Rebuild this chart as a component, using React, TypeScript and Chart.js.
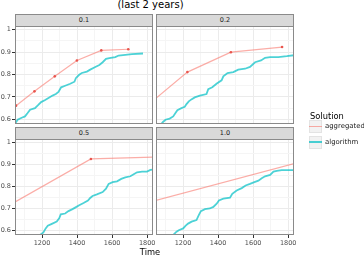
import { useEffect, useRef } from "react";
import { Chart, registerables } from "chart.js";

Chart.register(...registerables);

// ---------------- data ----------------
const panelLabels = ["0.1", "0.2", "0.5", "1.0"];
const seriesNames = ["aggregated", "algorithm"];

const xGridValues = [1100, 1200, 1300, 1400, 1500, 1600, 1700, 1800];
const xMajorTicks = [1200, 1400, 1600, 1800];
const yGridValues = [0.6, 0.65, 0.7, 0.75, 0.8, 0.85, 0.9, 0.95, 1.0];
const yMajorTicks = [0.6, 0.7, 0.8, 0.9, 1.0];

const agg01X = [1052, 1157, 1273, 1399, 1538, 1692];
const agg01Y = [0.661, 0.725, 0.792, 0.863, 0.908, 0.913];
const alg01X = [1030, 1046, 1061, 1084, 1103, 1118, 1132, 1160, 1176, 1195, 1218, 1237, 1260, 1279, 1294, 1309, 1332, 1361, 1385, 1393, 1412, 1427, 1456, 1475, 1504, 1527, 1546, 1565, 1584, 1618, 1637, 1675, 1713, 1776];
const alg01Y = [0.572, 0.58, 0.598, 0.607, 0.613, 0.628, 0.643, 0.65, 0.662, 0.677, 0.686, 0.695, 0.706, 0.713, 0.722, 0.743, 0.75, 0.759, 0.768, 0.784, 0.799, 0.807, 0.813, 0.822, 0.834, 0.843, 0.855, 0.87, 0.873, 0.878, 0.885, 0.888, 0.891, 0.894];

const agg02X = [1000, 1225, 1473, 1765];
const agg02Y = [0.664, 0.811, 0.9, 0.923];
const alg02X = [1066, 1073, 1086, 1100, 1124, 1144, 1157, 1168, 1191, 1210, 1220, 1233, 1248, 1267, 1296, 1334, 1344, 1367, 1391, 1420, 1430, 1454, 1487, 1515, 1554, 1582, 1611, 1645, 1668, 1697, 1744, 1792, 1840];
const alg02Y = [0.565, 0.576, 0.588, 0.598, 0.603, 0.613, 0.628, 0.641, 0.65, 0.656, 0.668, 0.68, 0.689, 0.698, 0.706, 0.713, 0.735, 0.743, 0.759, 0.774, 0.792, 0.807, 0.811, 0.822, 0.826, 0.834, 0.855, 0.863, 0.875, 0.878, 0.878, 0.882, 0.887];

const agg05X = [1000, 1479, 1900];
const agg05Y = [0.709, 0.926, 0.9355];
const alg05X = [1175, 1189, 1208, 1221, 1233, 1256, 1284, 1298, 1307, 1332, 1351, 1374, 1389, 1412, 1437, 1462, 1475, 1488, 1513, 1546, 1565, 1580, 1603, 1628, 1652, 1675, 1704, 1723, 1742, 1771, 1799, 1818, 1832, 1845];
const alg05Y = [0.565, 0.579, 0.591, 0.609, 0.621, 0.63, 0.64, 0.655, 0.673, 0.677, 0.688, 0.697, 0.704, 0.715, 0.725, 0.736, 0.748, 0.757, 0.764, 0.775, 0.79, 0.812, 0.82, 0.824, 0.835, 0.842, 0.847, 0.856, 0.865, 0.868, 0.868, 0.876, 0.877, 0.878];

const agg10X = [1000, 1900];
const agg10Y = [0.727, 0.919];
const alg10X = [1135, 1144, 1163, 1176, 1201, 1214, 1229, 1249, 1277, 1290, 1302, 1325, 1353, 1373, 1392, 1405, 1430, 1468, 1481, 1506, 1535, 1557, 1582, 1607, 1630, 1649, 1668, 1697, 1716, 1735, 1763, 1840];
const alg10Y = [0.565, 0.579, 0.594, 0.601, 0.609, 0.621, 0.631, 0.64, 0.647, 0.67, 0.688, 0.697, 0.7, 0.707, 0.722, 0.737, 0.745, 0.749, 0.767, 0.782, 0.793, 0.805, 0.812, 0.82, 0.827, 0.838, 0.847, 0.853, 0.868, 0.872, 0.875, 0.875];

const xMin = 1046;
const xMax = 1833;
const yMin = 0.579;
const yMax = 1.017;

// ---------------- styling / layout ----------------
const FONT = "DejaVu Sans";
const W = 364;
const H = 256;
const RED_LINE = "rgba(248,118,109,0.6)";
const RED_POINT = "#e9554d";
const CYAN_LINE = "rgba(0,191,196,0.7)";
const BORDER = "#8a8a8a";

type PanelDef = {
  label: string;
  aggX: number[];
  aggY: number[];
  algX: number[];
  algY: number[];
  area: { left: number; top: number; right: number; bottom: number };
  showX: boolean;
  showY: boolean;
};

const panels: PanelDef[] = [
  { label: panelLabels[0], aggX: agg01X, aggY: agg01Y, algX: alg01X, algY: alg01Y, area: { left: 15, top: 26, right: 153, bottom: 124 }, showX: false, showY: true },
  { label: panelLabels[1], aggX: agg02X, aggY: agg02Y, algX: alg02X, algY: alg02Y, area: { left: 156, top: 26, right: 294, bottom: 124 }, showX: false, showY: false },
  { label: panelLabels[2], aggX: agg05X, aggY: agg05Y, algX: alg05X, algY: alg05Y, area: { left: 15, top: 139, right: 153, bottom: 235 }, showX: true, showY: true },
  { label: panelLabels[3], aggX: agg10X, aggY: agg10Y, algX: alg10X, algY: alg10Y, area: { left: 156, top: 139, right: 294, bottom: 235 }, showX: true, showY: false },
];

const near = (a: number, list: number[]) => list.some((b) => Math.abs(a - b) < 1e-9);

const borderPlugin = {
  id: "panelBorder",
  afterDraw(chart: any) {
    const { ctx, chartArea } = chart;
    ctx.save();
    ctx.strokeStyle = BORDER;
    ctx.lineWidth = 1;
    ctx.strokeRect(chartArea.left + 0.5, chartArea.top + 0.5, chartArea.right - chartArea.left - 1, chartArea.bottom - chartArea.top - 1);
    ctx.restore();
  },
};

function Panel({ p }: { p: PanelDef }) {
  const ref = useRef<HTMLCanvasElement | null>(null);
  useEffect(() => {
    if (!ref.current) return;
    const Y_AXIS_W = 15;
    const X_AXIS_H = W > 0 ? H - p.area.bottom : 0;
    const chart = new Chart(ref.current, {
      type: "line",
      data: {
        datasets: [
          {
            label: seriesNames[0],
            data: p.aggX.map((x, i) => ({ x, y: p.aggY[i] })),
            borderColor: RED_LINE,
            borderWidth: 1.2,
            pointRadius: 1.3,
            pointBackgroundColor: RED_POINT,
            pointBorderWidth: 0,
            tension: 0,
          },
          {
            label: seriesNames[1],
            data: p.algX.map((x, i) => ({ x, y: p.algY[i] })),
            borderColor: CYAN_LINE,
            borderWidth: 1.8,
            pointRadius: 0,
            tension: 0,
          },
        ],
      },
      options: {
        responsive: false,
        animation: false,
        events: [],
        layout: {
          padding: {
            left: p.showY ? p.area.left - Y_AXIS_W : p.area.left,
            top: p.area.top,
            right: W - p.area.right,
            bottom: p.showX ? 0 : H - p.area.bottom,
          },
        },
        plugins: { legend: { display: false }, tooltip: { enabled: false } },
        scales: {
          x: {
            type: "linear",
            min: xMin,
            max: xMax,
            afterBuildTicks: (axis: any) => {
              axis.ticks = xGridValues.map((v) => ({ value: v }));
            },
            afterFit: (s: any) => {
              s.height = p.showX ? X_AXIS_H : 0;
            },
            ticks: {
              display: p.showX,
              autoSkip: false,
              maxRotation: 0,
              padding: 1,
              color: "#4d4d4d",
              font: { family: FONT, size: 6.5 },
              callback: (v: any) => (near(Number(v), xMajorTicks) ? String(v) : ""),
            },
            grid: {
              drawTicks: p.showX,
              tickLength: 3,
              color: (c: any) => (c.tick && near(c.tick.value, xMajorTicks) ? "#ebebeb" : "#f5f5f5"),
              tickColor: (c: any) => (c.tick && near(c.tick.value, xMajorTicks) ? "#333333" : "rgba(0,0,0,0)"),
              lineWidth: 1,
            },
            border: { display: false },
          },
          y: {
            type: "linear",
            min: yMin,
            max: yMax,
            afterBuildTicks: (axis: any) => {
              axis.ticks = yGridValues.map((v) => ({ value: v }));
            },
            afterFit: (s: any) => {
              s.width = p.showY ? Y_AXIS_W : 0;
            },
            ticks: {
              display: p.showY,
              autoSkip: false,
              padding: 1,
              color: "#4d4d4d",
              font: { family: FONT, size: 6.5 },
              callback: (v: any) => (near(Number(v), yMajorTicks) ? String(Number(v)) : ""),
            },
            grid: {
              drawTicks: p.showY,
              tickLength: 3,
              color: (c: any) => (c.tick && near(c.tick.value, yMajorTicks) ? "#ebebeb" : "#f5f5f5"),
              tickColor: (c: any) => (c.tick && near(c.tick.value, yMajorTicks) ? "#333333" : "rgba(0,0,0,0)"),
              lineWidth: 1,
            },
            border: { display: false },
          },
        },
      },
      plugins: [borderPlugin],
    } as any);
    return () => chart.destroy();
  }, [p]);
  return <canvas ref={ref} width={W} height={H} style={{ position: "absolute", left: 0, top: 0, width: W, height: H }} />;
}

function Strip({ p }: { p: PanelDef }) {
  return (
    <div
      style={{
        position: "absolute",
        left: p.area.left,
        top: p.area.top - 12,
        width: p.area.right - p.area.left,
        height: 13,
        boxSizing: "border-box",
        background: "#d9d9d9",
        border: `1px solid ${BORDER}`,
        fontFamily: FONT,
        fontSize: 6.5,
        lineHeight: "11px",
        textAlign: "center",
        color: "#1a1a1a",
      }}
    >
      {p.label}
    </div>
  );
}

function LegendKey({ top, color, width, label }: { top: number; color: string; width: number; label: string }) {
  return (
    <>
      <div
        style={{
          position: "absolute",
          left: 309,
          top,
          width: 13,
          height: 13,
          boxSizing: "border-box",
          background: "#f2f2f2",
          border: "1px solid #e3e3e3",
        }}
      >
        <div style={{ position: "absolute", left: -1, right: -1, top: 5.5 - width / 2, height: width, background: color }} />
      </div>
      <div
        style={{
          position: "absolute",
          left: 325,
          top,
          height: 13,
          lineHeight: "13px",
          fontFamily: FONT,
          fontSize: 6.9,
          color: "#1a1a1a",
          whiteSpace: "nowrap",
        }}
      >
        {label}
      </div>
    </>
  );
}

export default function App() {
  return (
    <div style={{ position: "absolute", left: 0, top: 0, width: W, height: H, background: "#fff", overflow: "hidden" }}>
      <div
        style={{
          position: "absolute",
          left: 0,
          top: 0,
          width: 301,
          textAlign: "center",
          fontFamily: FONT,
          fontSize: 10,
          lineHeight: "10px",
          color: "#000",
          whiteSpace: "nowrap",
        }}
      >
        (last 2 years)
      </div>
      {panels.map((p) => (
        <Panel key={p.label} p={p} />
      ))}
      {panels.map((p) => (
        <Strip key={"s" + p.label} p={p} />
      ))}
      <div
        style={{
          position: "absolute",
          left: 0,
          top: 247.8,
          width: 300,
          textAlign: "center",
          fontFamily: FONT,
          fontSize: 8.3,
          lineHeight: "8.3px",
          color: "#000",
        }}
      >
        Time
      </div>
      <div
        style={{
          position: "absolute",
          left: 310,
          top: 112,
          fontFamily: FONT,
          fontSize: 8.3,
          lineHeight: "8.3px",
          color: "#000",
          whiteSpace: "nowrap",
        }}
      >
        Solution
      </div>
      <LegendKey top={120} color={RED_LINE} width={1.2} label={seriesNames[0]} />
      <LegendKey top={135.5} color={CYAN_LINE} width={1.8} label={seriesNames[1]} />
    </div>
  );
}
